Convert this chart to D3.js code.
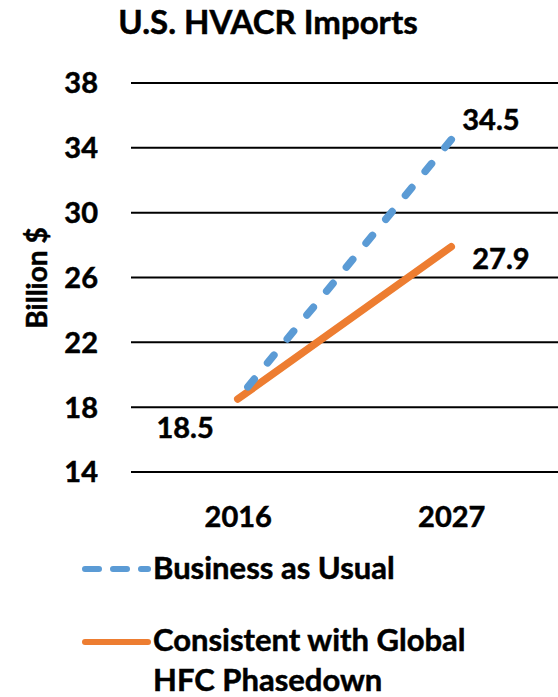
<!DOCTYPE html>
<html>
<head>
<meta charset="utf-8">
<script src="https://cdn.jsdelivr.net/npm/d3@7/dist/d3.min.js"></script>
<style>
  html, body { margin: 0; padding: 0; background: #fff; }
  svg { display: block; }
  text { font-family: Lato, "Open Sans", sans-serif; font-weight: 700; fill: #000; stroke: #000; stroke-width: 0.5px; }
</style>
</head>
<body>
<svg id="chart" width="558" height="697"></svg>
<script>
// Chart data
const years = ["2016", "2027"];
const businessAsUsual = [18.5, 34.5];
const hfcPhasedown = [18.5, 27.9];
const yTicks = [14, 18, 22, 26, 30, 34, 38];
const seriesNames = ["Business as Usual", "Consistent with Global HFC Phasedown"];

const blue = "#5B9BD5";
const orange = "#ED7D31";
const fs = 29;
const legendFs = 31;

const svg = d3.select("#chart");

const x = d3.scalePoint().domain(years).range([131, 558]).padding(0.5);
const y = d3.scaleLinear().domain([14, 38]).range([472, 83]);

// Title
svg.append("text")
  .attr("x", 268).attr("y", 34)
  .attr("text-anchor", "middle")
  .style("font-size", "33px")
  .text("U.S. HVACR Imports");

// Horizontal gridlines
svg.append("g")
  .selectAll("line")
  .data(yTicks)
  .join("line")
  .attr("x1", 131).attr("x2", 558)
  .attr("y1", d => y(d)).attr("y2", d => y(d))
  .attr("stroke", "#000").attr("stroke-width", 2);

// Y axis tick labels
const yAxis = d3.axisLeft(y).tickValues(yTicks).tickSize(0).tickPadding(0);
const gy = svg.append("g").attr("transform", "translate(98,0)").call(yAxis);
gy.select(".domain").remove();
gy.selectAll("text")
  .style("font-size", fs + "px")
  .style("font-family", "Lato, sans-serif")
  .attr("dy", "0.34em");

// X axis labels
const xAxis = d3.axisBottom(x).tickSize(0).tickPadding(0);
const gx = svg.append("g").attr("transform", "translate(0,527)").call(xAxis);
gx.select(".domain").remove();
gx.selectAll("text")
  .style("font-size", fs + "px")
  .style("font-family", "Lato, sans-serif")
  .attr("y", 0).attr("dy", 0);

// Y axis title
svg.append("text")
  .attr("transform", "translate(47,278) rotate(-90)")
  .attr("text-anchor", "middle")
  .style("font-size", "28px")
  .text("Billion $");

// Series lines
const line = d3.line().x((d, i) => x(years[i])).y(d => y(d));

svg.append("path")
  .datum(hfcPhasedown)
  .attr("d", line)
  .attr("fill", "none")
  .attr("stroke", orange)
  .attr("stroke-width", 7.5)
  .attr("stroke-linecap", "round");

// Dashed line drawn from the 2027 end so the pattern finishes on a full dash
svg.append("path")
  .datum(businessAsUsual.slice().reverse())
  .attr("d", d3.line().x((d, i) => x(years[1 - i])).y(d => y(d)))
  .attr("fill", "none")
  .attr("stroke", blue)
  .attr("stroke-width", 7.5)
  .attr("stroke-linecap", "round")
  .attr("stroke-dasharray", "10,21");

// Data labels
svg.append("text")
  .attr("x", x(years[0]) - 24).attr("y", y(businessAsUsual[0]) + 39)
  .attr("text-anchor", "end")
  .style("font-size", fs + "px")
  .text(businessAsUsual[0].toFixed(1));

svg.append("text")
  .attr("x", x(years[1]) + 11).attr("y", y(businessAsUsual[1]) - 10)
  .style("font-size", fs + "px")
  .text(businessAsUsual[1].toFixed(1));

svg.append("text")
  .attr("x", x(years[1]) + 21).attr("y", y(hfcPhasedown[1]) + 22)
  .style("font-size", fs + "px")
  .text(hfcPhasedown[1].toFixed(1));

// Legend
const legend = svg.append("g");
legend.append("line")
  .attr("x1", 85).attr("x2", 148).attr("y1", 569).attr("y2", 569)
  .attr("stroke", blue).attr("stroke-width", 6)
  .attr("stroke-linecap", "round").attr("stroke-dasharray", "14,14");
legend.append("text")
  .attr("x", 153).attr("y", 579)
  .style("font-size", legendFs + "px")
  .text(seriesNames[0]);

legend.append("line")
  .attr("x1", 85).attr("x2", 148).attr("y1", 642).attr("y2", 642)
  .attr("stroke", orange).attr("stroke-width", 6)
  .attr("stroke-linecap", "round");
const t2 = legend.append("text")
  .attr("x", 153).attr("y", 651)
  .style("font-size", legendFs + "px");
t2.append("tspan").attr("x", 153).text("Consistent with Global");
t2.append("tspan").attr("x", 153).attr("y", 691).text("HFC Phasedown");
</script>
</body>
</html>
